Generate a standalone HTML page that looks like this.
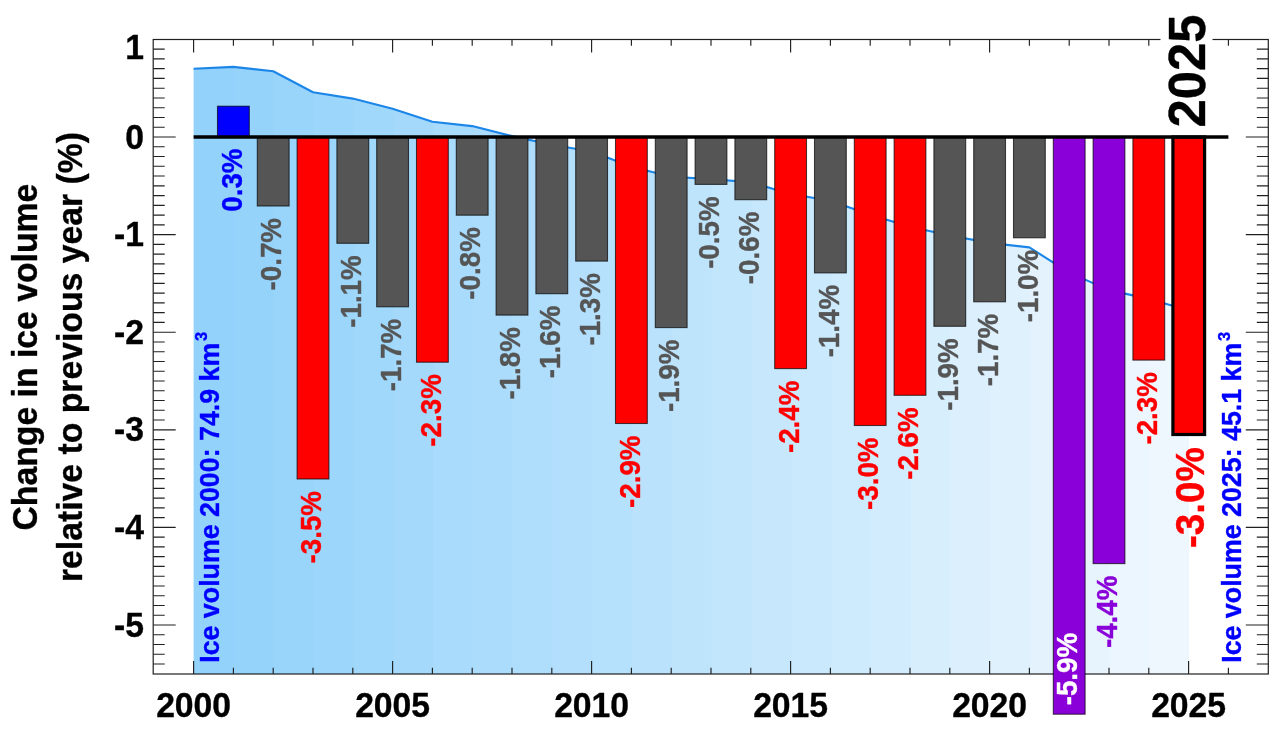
<!DOCTYPE html>
<html lang="en"><head><meta charset="utf-8"><title>Change in ice volume relative to previous year</title>
<style>html,body{margin:0;padding:0;background:#fff}body{width:1277px;height:745px;overflow:hidden}svg{display:block}text{font-family:"Liberation Sans",sans-serif;font-weight:bold;stroke-width:.35px;stroke-linejoin:round}</style></head><body>
<svg width="1277" height="745" viewBox="0 0 1277 745">
<rect width="1277" height="745" fill="#fff"/>
<clipPath id="c"><path d="M193.6 674.0 L193.6 68.8 L233.4 66.9 L273.2 71.2 L313.0 92.3 L352.8 98.6 L392.6 108.7 L432.4 121.7 L472.2 126.1 L512.0 136.1 L551.8 144.8 L591.6 151.5 L631.4 166.8 L671.2 176.7 L711.0 179.1 L750.8 182.3 L790.6 194.0 L830.4 200.7 L870.2 214.7 L910.0 226.8 L949.8 235.5 L989.6 242.9 L1029.4 247.4 L1069.2 272.6 L1109.0 290.1 L1148.8 298.9 L1188.6 310.3 L1188.6 674.0 Z"/></clipPath>
<g clip-path="url(#c)">
<rect x="192.6" y="60" width="997.0" height="614.0" fill="rgb(146,210,251)"/>
<rect x="234.2" y="60" width="957.2" height="614.0" fill="rgb(149,211,251)"/>
<rect x="274.0" y="60" width="917.4" height="614.0" fill="rgb(153,213,251)"/>
<rect x="313.8" y="60" width="877.6" height="614.0" fill="rgb(157,214,251)"/>
<rect x="353.6" y="60" width="837.8" height="614.0" fill="rgb(160,216,251)"/>
<rect x="393.4" y="60" width="798.0" height="614.0" fill="rgb(164,217,251)"/>
<rect x="433.2" y="60" width="758.2" height="614.0" fill="rgb(168,219,252)"/>
<rect x="473.0" y="60" width="718.4" height="614.0" fill="rgb(171,220,252)"/>
<rect x="512.8" y="60" width="678.6" height="614.0" fill="rgb(175,222,252)"/>
<rect x="552.6" y="60" width="638.8" height="614.0" fill="rgb(179,223,252)"/>
<rect x="592.4" y="60" width="599.0" height="614.0" fill="rgb(182,225,252)"/>
<rect x="632.2" y="60" width="559.2" height="614.0" fill="rgb(186,226,252)"/>
<rect x="672.0" y="60" width="519.4" height="614.0" fill="rgb(190,228,252)"/>
<rect x="711.8" y="60" width="479.6" height="614.0" fill="rgb(194,230,252)"/>
<rect x="751.6" y="60" width="439.8" height="614.0" fill="rgb(198,231,252)"/>
<rect x="791.4" y="60" width="400.0" height="614.0" fill="rgb(202,233,253)"/>
<rect x="831.2" y="60" width="360.2" height="614.0" fill="rgb(206,234,253)"/>
<rect x="871.0" y="60" width="320.4" height="614.0" fill="rgb(210,236,253)"/>
<rect x="910.8" y="60" width="280.6" height="614.0" fill="rgb(215,238,253)"/>
<rect x="950.6" y="60" width="240.8" height="614.0" fill="rgb(219,239,253)"/>
<rect x="990.4" y="60" width="201.0" height="614.0" fill="rgb(223,241,253)"/>
<rect x="1030.2" y="60" width="161.2" height="614.0" fill="rgb(227,242,253)"/>
<rect x="1070.0" y="60" width="121.4" height="614.0" fill="rgb(231,244,254)"/>
<rect x="1109.8" y="60" width="81.6" height="614.0" fill="rgb(235,246,254)"/>
<rect x="1149.6" y="60" width="41.8" height="614.0" fill="rgb(239,247,254)"/>
</g>
<path d="M193.6 68.8 L233.4 66.9 L273.2 71.2 L313.0 92.3 L352.8 98.6 L392.6 108.7 L432.4 121.7 L472.2 126.1 L512.0 136.1 L551.8 144.8 L591.6 151.5 L631.4 166.8 L671.2 176.7 L711.0 179.1 L750.8 182.3 L790.6 194.0 L830.4 200.7 L870.2 214.7 L910.0 226.8 L949.8 235.5 L989.6 242.9 L1029.4 247.4 L1069.2 272.6 L1109.0 290.1 L1148.8 298.9 L1188.6 310.3" fill="none" stroke="#1c86e8" stroke-width="2.1" stroke-linejoin="round"/>
<path d="M153.2 664.04h11.5M1268.3 664.04h-11.5M153.2 654.28h11.5M1268.3 654.28h-11.5M153.2 644.52h11.5M1268.3 644.52h-11.5M153.2 634.76h11.5M1268.3 634.76h-11.5M153.2 625.00h22.5M1268.3 625.00h-22.5M153.2 615.24h11.5M1268.3 615.24h-11.5M153.2 605.48h11.5M1268.3 605.48h-11.5M153.2 595.72h11.5M1268.3 595.72h-11.5M153.2 585.96h11.5M1268.3 585.96h-11.5M153.2 576.20h11.5M1268.3 576.20h-11.5M153.2 566.44h11.5M1268.3 566.44h-11.5M153.2 556.68h11.5M1268.3 556.68h-11.5M153.2 546.92h11.5M1268.3 546.92h-11.5M153.2 537.16h11.5M1268.3 537.16h-11.5M153.2 527.40h22.5M1268.3 527.40h-22.5M153.2 517.64h11.5M1268.3 517.64h-11.5M153.2 507.88h11.5M1268.3 507.88h-11.5M153.2 498.12h11.5M1268.3 498.12h-11.5M153.2 488.36h11.5M1268.3 488.36h-11.5M153.2 478.60h11.5M1268.3 478.60h-11.5M153.2 468.84h11.5M1268.3 468.84h-11.5M153.2 459.08h11.5M1268.3 459.08h-11.5M153.2 449.32h11.5M1268.3 449.32h-11.5M153.2 439.56h11.5M1268.3 439.56h-11.5M153.2 429.80h22.5M1268.3 429.80h-22.5M153.2 420.04h11.5M1268.3 420.04h-11.5M153.2 410.28h11.5M1268.3 410.28h-11.5M153.2 400.52h11.5M1268.3 400.52h-11.5M153.2 390.76h11.5M1268.3 390.76h-11.5M153.2 381.00h11.5M1268.3 381.00h-11.5M153.2 371.24h11.5M1268.3 371.24h-11.5M153.2 361.48h11.5M1268.3 361.48h-11.5M153.2 351.72h11.5M1268.3 351.72h-11.5M153.2 341.96h11.5M1268.3 341.96h-11.5M153.2 332.20h22.5M1268.3 332.20h-22.5M153.2 322.44h11.5M1268.3 322.44h-11.5M153.2 312.68h11.5M1268.3 312.68h-11.5M153.2 302.92h11.5M1268.3 302.92h-11.5M153.2 293.16h11.5M1268.3 293.16h-11.5M153.2 283.40h11.5M1268.3 283.40h-11.5M153.2 273.64h11.5M1268.3 273.64h-11.5M153.2 263.88h11.5M1268.3 263.88h-11.5M153.2 254.12h11.5M1268.3 254.12h-11.5M153.2 244.36h11.5M1268.3 244.36h-11.5M153.2 234.60h22.5M1268.3 234.60h-22.5M153.2 224.84h11.5M1268.3 224.84h-11.5M153.2 215.08h11.5M1268.3 215.08h-11.5M153.2 205.32h11.5M1268.3 205.32h-11.5M153.2 195.56h11.5M1268.3 195.56h-11.5M153.2 185.80h11.5M1268.3 185.80h-11.5M153.2 176.04h11.5M1268.3 176.04h-11.5M153.2 166.28h11.5M1268.3 166.28h-11.5M153.2 156.52h11.5M1268.3 156.52h-11.5M153.2 146.76h11.5M1268.3 146.76h-11.5M153.2 137.00h22.5M1268.3 137.00h-22.5M153.2 127.24h11.5M1268.3 127.24h-11.5M153.2 117.48h11.5M1268.3 117.48h-11.5M153.2 107.72h11.5M1268.3 107.72h-11.5M153.2 97.96h11.5M1268.3 97.96h-11.5M153.2 88.20h11.5M1268.3 88.20h-11.5M153.2 78.44h11.5M1268.3 78.44h-11.5M153.2 68.68h11.5M1268.3 68.68h-11.5M153.2 58.92h11.5M1268.3 58.92h-11.5M153.2 49.16h11.5M1268.3 49.16h-11.5M193.60 674.0v-13.0M193.60 39.5v13.0M233.40 674.0v-6.3M233.40 39.5v6.3M273.20 674.0v-6.3M273.20 39.5v6.3M313.00 674.0v-6.3M313.00 39.5v6.3M352.80 674.0v-6.3M352.80 39.5v6.3M392.60 674.0v-13.0M392.60 39.5v13.0M432.40 674.0v-6.3M432.40 39.5v6.3M472.20 674.0v-6.3M472.20 39.5v6.3M512.00 674.0v-6.3M512.00 39.5v6.3M551.80 674.0v-6.3M551.80 39.5v6.3M591.60 674.0v-13.0M591.60 39.5v13.0M631.40 674.0v-6.3M631.40 39.5v6.3M671.20 674.0v-6.3M671.20 39.5v6.3M711.00 674.0v-6.3M711.00 39.5v6.3M750.80 674.0v-6.3M750.80 39.5v6.3M790.60 674.0v-13.0M790.60 39.5v13.0M830.40 674.0v-6.3M830.40 39.5v6.3M870.20 674.0v-6.3M870.20 39.5v6.3M910.00 674.0v-6.3M910.00 39.5v6.3M949.80 674.0v-6.3M949.80 39.5v6.3M989.60 674.0v-13.0M989.60 39.5v13.0M1029.40 674.0v-6.3M1029.40 39.5v6.3M1069.20 674.0v-6.3M1069.20 39.5v6.3M1109.00 674.0v-6.3M1109.00 39.5v6.3M1148.80 674.0v-6.3M1148.80 39.5v6.3M1188.60 674.0v-13.0M1188.60 39.5v13.0M1228.40 674.0v-6.3M1228.40 39.5v6.3" stroke="#202020" stroke-width="1.15" fill="none"/>
<rect x="153.2" y="39.5" width="1115.1" height="634.5" fill="none" stroke="#202020" stroke-width="1.2"/>
<rect x="217.5" y="106.2" width="31.8" height="30.8" fill="#0000ff" stroke="#000" stroke-opacity=".68" stroke-width="1.1"/>
<rect x="257.3" y="137.0" width="31.8" height="69.0" fill="#555555" stroke="#000" stroke-opacity=".68" stroke-width="1.1"/>
<rect x="297.1" y="137.0" width="31.8" height="342.0" fill="#ff0000" stroke="#000" stroke-opacity=".68" stroke-width="1.1"/>
<rect x="336.9" y="137.0" width="31.8" height="106.3" fill="#555555" stroke="#000" stroke-opacity=".68" stroke-width="1.1"/>
<rect x="376.7" y="137.0" width="31.8" height="169.8" fill="#555555" stroke="#000" stroke-opacity=".68" stroke-width="1.1"/>
<rect x="416.5" y="137.0" width="31.8" height="225.2" fill="#ff0000" stroke="#000" stroke-opacity=".68" stroke-width="1.1"/>
<rect x="456.3" y="137.0" width="31.8" height="78.2" fill="#555555" stroke="#000" stroke-opacity=".68" stroke-width="1.1"/>
<rect x="496.1" y="137.0" width="31.8" height="178.1" fill="#555555" stroke="#000" stroke-opacity=".68" stroke-width="1.1"/>
<rect x="535.9" y="137.0" width="31.8" height="156.7" fill="#555555" stroke="#000" stroke-opacity=".68" stroke-width="1.1"/>
<rect x="575.7" y="137.0" width="31.8" height="124.1" fill="#555555" stroke="#000" stroke-opacity=".68" stroke-width="1.1"/>
<rect x="615.5" y="137.0" width="31.8" height="286.5" fill="#ff0000" stroke="#000" stroke-opacity=".68" stroke-width="1.1"/>
<rect x="655.3" y="137.0" width="31.8" height="190.6" fill="#555555" stroke="#000" stroke-opacity=".68" stroke-width="1.1"/>
<rect x="695.1" y="137.0" width="31.8" height="47.4" fill="#555555" stroke="#000" stroke-opacity=".68" stroke-width="1.1"/>
<rect x="734.9" y="137.0" width="31.8" height="62.7" fill="#555555" stroke="#000" stroke-opacity=".68" stroke-width="1.1"/>
<rect x="774.7" y="137.0" width="31.8" height="231.6" fill="#ff0000" stroke="#000" stroke-opacity=".68" stroke-width="1.1"/>
<rect x="814.5" y="137.0" width="31.8" height="135.9" fill="#555555" stroke="#000" stroke-opacity=".68" stroke-width="1.1"/>
<rect x="854.3" y="137.0" width="31.8" height="288.5" fill="#ff0000" stroke="#000" stroke-opacity=".68" stroke-width="1.1"/>
<rect x="894.1" y="137.0" width="31.8" height="258.3" fill="#ff0000" stroke="#000" stroke-opacity=".68" stroke-width="1.1"/>
<rect x="933.9" y="137.0" width="31.8" height="189.3" fill="#555555" stroke="#000" stroke-opacity=".68" stroke-width="1.1"/>
<rect x="973.7" y="137.0" width="31.8" height="164.8" fill="#555555" stroke="#000" stroke-opacity=".68" stroke-width="1.1"/>
<rect x="1013.5" y="137.0" width="31.8" height="100.8" fill="#555555" stroke="#000" stroke-opacity=".68" stroke-width="1.1"/>
<rect x="1053.3" y="137.0" width="31.8" height="577.2" fill="#8a00d8" stroke="#000" stroke-opacity=".68" stroke-width="1.1"/>
<rect x="1093.1" y="137.0" width="31.8" height="426.6" fill="#8a00d8" stroke="#000" stroke-opacity=".68" stroke-width="1.1"/>
<rect x="1132.9" y="137.0" width="31.8" height="223.1" fill="#ff0000" stroke="#000" stroke-opacity=".68" stroke-width="1.1"/>
<rect x="1172.9" y="137.0" width="31.7" height="297.5" fill="#ff0000" stroke="#000" stroke-width="3.2"/>
<path d="M193.6 137.0H1228.4" stroke="#000" stroke-width="3.6"/>
<text transform="translate(241.6 148.5) rotate(-90) scale(1 1.050)" text-anchor="end" font-size="27.75" fill="#0000ff" stroke="#0000ff">0.3%</text>
<text transform="translate(281.4 218.0) rotate(-90) scale(1 1.050)" text-anchor="end" font-size="27.75" fill="#555555" stroke="#555555">-0.7%</text>
<text transform="translate(321.2 491.0) rotate(-90) scale(1 1.050)" text-anchor="end" font-size="27.75" fill="#ff0000" stroke="#ff0000">-3.5%</text>
<text transform="translate(361.0 255.3) rotate(-90) scale(1 1.050)" text-anchor="end" font-size="27.75" fill="#555555" stroke="#555555">-1.1%</text>
<text transform="translate(400.8 318.8) rotate(-90) scale(1 1.050)" text-anchor="end" font-size="27.75" fill="#555555" stroke="#555555">-1.7%</text>
<text transform="translate(440.6 374.2) rotate(-90) scale(1 1.050)" text-anchor="end" font-size="27.75" fill="#ff0000" stroke="#ff0000">-2.3%</text>
<text transform="translate(480.4 227.2) rotate(-90) scale(1 1.050)" text-anchor="end" font-size="27.75" fill="#555555" stroke="#555555">-0.8%</text>
<text transform="translate(520.2 327.1) rotate(-90) scale(1 1.050)" text-anchor="end" font-size="27.75" fill="#555555" stroke="#555555">-1.8%</text>
<text transform="translate(560.0 305.7) rotate(-90) scale(1 1.050)" text-anchor="end" font-size="27.75" fill="#555555" stroke="#555555">-1.6%</text>
<text transform="translate(599.8 273.1) rotate(-90) scale(1 1.050)" text-anchor="end" font-size="27.75" fill="#555555" stroke="#555555">-1.3%</text>
<text transform="translate(639.6 435.5) rotate(-90) scale(1 1.050)" text-anchor="end" font-size="27.75" fill="#ff0000" stroke="#ff0000">-2.9%</text>
<text transform="translate(679.4 339.6) rotate(-90) scale(1 1.050)" text-anchor="end" font-size="27.75" fill="#555555" stroke="#555555">-1.9%</text>
<text transform="translate(719.2 196.4) rotate(-90) scale(1 1.050)" text-anchor="end" font-size="27.75" fill="#555555" stroke="#555555">-0.5%</text>
<text transform="translate(759.0 211.7) rotate(-90) scale(1 1.050)" text-anchor="end" font-size="27.75" fill="#555555" stroke="#555555">-0.6%</text>
<text transform="translate(798.8 380.6) rotate(-90) scale(1 1.050)" text-anchor="end" font-size="27.75" fill="#ff0000" stroke="#ff0000">-2.4%</text>
<text transform="translate(838.6 284.9) rotate(-90) scale(1 1.050)" text-anchor="end" font-size="27.75" fill="#555555" stroke="#555555">-1.4%</text>
<text transform="translate(878.4 437.5) rotate(-90) scale(1 1.050)" text-anchor="end" font-size="27.75" fill="#ff0000" stroke="#ff0000">-3.0%</text>
<text transform="translate(918.2 407.3) rotate(-90) scale(1 1.050)" text-anchor="end" font-size="27.75" fill="#ff0000" stroke="#ff0000">-2.6%</text>
<text transform="translate(958.0 338.3) rotate(-90) scale(1 1.050)" text-anchor="end" font-size="27.75" fill="#555555" stroke="#555555">-1.9%</text>
<text transform="translate(997.8 313.8) rotate(-90) scale(1 1.050)" text-anchor="end" font-size="27.75" fill="#555555" stroke="#555555">-1.7%</text>
<text transform="translate(1037.6 249.8) rotate(-90) scale(1 1.050)" text-anchor="end" font-size="27.75" fill="#555555" stroke="#555555">-1.0%</text>
<text transform="translate(1077.4 705.3) rotate(-90) scale(1 1.050)" text-anchor="start" font-size="27.75" fill="#ffffff" stroke="#ffffff" stroke-width="0">-5.9%</text>
<text transform="translate(1117.2 575.6) rotate(-90) scale(1 1.050)" text-anchor="end" font-size="27.75" fill="#8a00d8" stroke="#8a00d8">-4.4%</text>
<text transform="translate(1157.0 372.1) rotate(-90) scale(1 1.050)" text-anchor="end" font-size="27.75" fill="#ff0000" stroke="#ff0000">-2.3%</text>
<text transform="translate(1204.1 447.0) rotate(-90) scale(1 1.040)" text-anchor="end" font-size="38.70" fill="#ff0000" stroke="#ff0000">-3.0%</text>
<text transform="translate(218.6 662.8) rotate(-90) scale(1 1.030)" text-anchor="start" font-size="26.80" fill="#0000ff" stroke="#0000ff">Ice volume 2000: 74.9 km<tspan font-size="16.5" dy="-11.5" dx="1.8">3</tspan></text>
<text transform="translate(1241.4 662.8) rotate(-90) scale(1 1.030)" text-anchor="start" font-size="26.80" fill="#0000ff" stroke="#0000ff">Ice volume 2025: 45.1 km<tspan font-size="16.5" dy="-11.5" dx="1.8">3</tspan></text>
<rect x="1160.5" y="8" width="52" height="121" fill="#fff"/>
<text transform="translate(1205.1 127.5) rotate(-90) scale(1 1.030)" text-anchor="start" font-size="50.80" fill="#000" stroke="#000">2025</text>
<text transform="translate(193.6 716.5) scale(1 1.030)" text-anchor="middle" font-size="33.70" fill="#000" stroke="#000">2000</text>
<text transform="translate(392.6 716.5) scale(1 1.030)" text-anchor="middle" font-size="33.70" fill="#000" stroke="#000">2005</text>
<text transform="translate(591.6 716.5) scale(1 1.030)" text-anchor="middle" font-size="33.70" fill="#000" stroke="#000">2010</text>
<text transform="translate(790.6 716.5) scale(1 1.030)" text-anchor="middle" font-size="33.70" fill="#000" stroke="#000">2015</text>
<text transform="translate(989.6 716.5) scale(1 1.030)" text-anchor="middle" font-size="33.70" fill="#000" stroke="#000">2020</text>
<text transform="translate(1188.6 716.5) scale(1 1.030)" text-anchor="middle" font-size="33.70" fill="#000" stroke="#000">2025</text>
<text transform="translate(144.0 58.8) scale(1 1.030)" text-anchor="end" font-size="33.70" fill="#000" stroke="#000">1</text>
<text transform="translate(144.0 148.6) scale(1 1.030)" text-anchor="end" font-size="33.70" fill="#000" stroke="#000">0</text>
<text transform="translate(144.0 246.2) scale(1 1.030)" text-anchor="end" font-size="33.70" fill="#000" stroke="#000">-1</text>
<text transform="translate(144.0 343.8) scale(1 1.030)" text-anchor="end" font-size="33.70" fill="#000" stroke="#000">-2</text>
<text transform="translate(144.0 441.4) scale(1 1.030)" text-anchor="end" font-size="33.70" fill="#000" stroke="#000">-3</text>
<text transform="translate(144.0 539.0) scale(1 1.030)" text-anchor="end" font-size="33.70" fill="#000" stroke="#000">-4</text>
<text transform="translate(144.0 636.6) scale(1 1.030)" text-anchor="end" font-size="33.70" fill="#000" stroke="#000">-5</text>
<text transform="translate(36.8 357.1) rotate(-90) scale(1 1.030)" text-anchor="middle" font-size="33.75" fill="#000" stroke="#000">Change in ice volume</text>
<text transform="translate(81.5 357.1) rotate(-90) scale(1 1.030)" text-anchor="middle" font-size="33.75" fill="#000" stroke="#000">relative to previous year (%)</text>
</svg></body></html>
